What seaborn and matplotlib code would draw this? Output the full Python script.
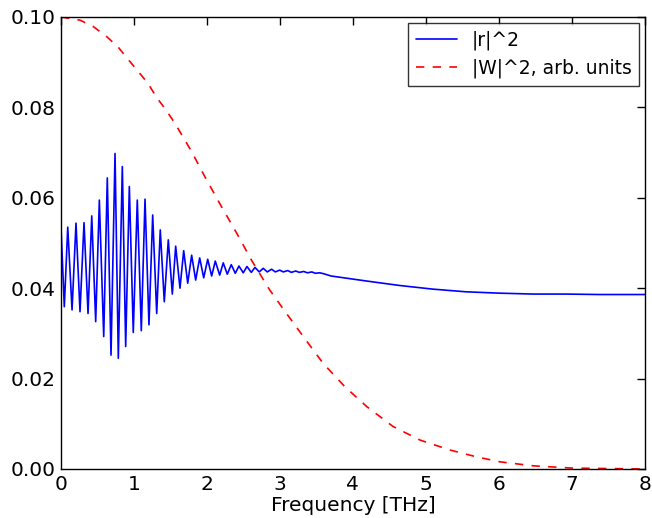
import seaborn as sns
import matplotlib.pyplot as plt

# |r|^2 (peaks and troughs, then the slow tail)
freq_r = [0.000, 0.045, 0.092, 0.151, 0.205, 0.260, 0.315, 0.370, 0.421, 0.475,
          0.525, 0.585, 0.634, 0.685, 0.740, 0.785, 0.840, 0.886, 0.936, 0.990,
          1.045, 1.100, 1.151, 1.205, 1.256, 1.311, 1.360, 1.415, 1.470, 1.525,
          1.571, 1.630, 1.681, 1.736, 1.790, 1.845, 1.900, 1.955, 2.010, 2.064,
          2.114, 2.174, 2.223, 2.278, 2.333, 2.388, 2.438, 2.497, 2.548, 2.607,
          2.658, 2.716, 2.771, 2.826, 2.886, 2.936, 2.996, 3.046, 3.106, 3.156,
          3.216, 3.266, 3.326, 3.376, 3.436, 3.486, 3.546, 3.600, 3.700, 4.180,
          4.640, 5.090, 5.550, 6.010, 6.470, 6.920, 7.380, 8.000]
r2 = [0.0533, 0.0359, 0.0535, 0.0352, 0.0544, 0.0348, 0.0545, 0.0344, 0.0560, 0.0326,
      0.0595, 0.0293, 0.0644, 0.0252, 0.0698, 0.0245, 0.0669, 0.0271, 0.0625, 0.0302,
      0.0595, 0.0306, 0.0597, 0.0319, 0.0562, 0.0344, 0.0529, 0.0370, 0.0507, 0.0387,
      0.0493, 0.0400, 0.0483, 0.0411, 0.0473, 0.0418, 0.0467, 0.0423, 0.0464, 0.0427,
      0.0460, 0.0429, 0.0456, 0.0431, 0.0452, 0.0433, 0.0449, 0.0434, 0.0448, 0.0435,
      0.0446, 0.0436, 0.0444, 0.0436, 0.0442, 0.0436, 0.0440, 0.0436, 0.0439, 0.0435,
      0.0438, 0.0435, 0.0437, 0.0434, 0.0436, 0.0433, 0.0434, 0.0432, 0.0427, 0.0416,
      0.0406, 0.0398, 0.0392, 0.0389, 0.0387, 0.0387, 0.0386, 0.0386]

# |W|^2 in arbitrary units
freq_w = [0.00, 0.26, 0.44, 0.63, 0.785, 0.92, 1.06, 1.196, 1.31, 1.44, 1.56, 1.67,
          1.79, 1.97, 2.20, 2.41, 2.61, 2.86, 3.09, 3.32, 3.59, 3.89, 4.19, 4.55,
          4.92, 5.33, 5.69, 6.01, 6.47, 7.01, 7.50, 8.00]
w2 = [0.1000, 0.0993, 0.0979, 0.0956, 0.0933, 0.0906, 0.0879, 0.0852, 0.0822, 0.0794,
      0.0765, 0.0735, 0.0702, 0.0647, 0.0580, 0.0521, 0.0462, 0.0396, 0.0344, 0.0293,
      0.0234, 0.0182, 0.0138, 0.0094, 0.0064, 0.0042, 0.0027, 0.0016, 0.0007, 0.0002,
      0.0001, 0.0000]

sns.set_style('white')
plt.rcParams['font.family'] = ['DejaVu Sans']
plt.rcParams['text.color'] = 'k'
plt.rcParams['axes.labelcolor'] = 'k'
plt.rcParams['xtick.color'] = 'k'
plt.rcParams['ytick.color'] = 'k'

fig = plt.figure(figsize=(6.52, 5.18), dpi=100)
ax = fig.add_axes([0.0936, 0.0946, 0.8954, 0.8726])

sns.lineplot(x=freq_r, y=r2, color='b', lw=1.2, sort=False, estimator=None,
             label='|r|^2', ax=ax)
sns.lineplot(x=freq_w, y=w2, color='r', lw=1.2, ls=(0, (5, 5)), sort=False,
             estimator=None, label='|W|^2, arb. units', ax=ax)

ax.set_xlim(0, 8)
ax.set_ylim(0, 0.10)
ax.set_xticks(range(0, 9))
ax.set_yticks([0.0, 0.02, 0.04, 0.06, 0.08, 0.10])
ax.set_yticklabels(['0.00', '0.02', '0.04', '0.06', '0.08', '0.10'])
ax.set_xlabel('Frequency [THz]', fontsize=14.5, labelpad=2)
ax.tick_params(direction='in', top=True, right=True, length=6, width=1,
               labelsize=14.5, pad=4, color='k', labelcolor='k')
for s in ax.spines.values():
    s.set_color('k')
    s.set_linewidth(1)

leg = ax.legend(loc='upper right', fontsize=13.5, frameon=True, fancybox=False,
                handlelength=2.2, borderaxespad=0.3)
leg.get_frame().set_edgecolor('k')
leg.get_frame().set_linewidth(1)
for t in leg.get_texts():
    t.set_color('k')

fig.savefig('out.png', dpi=100)
